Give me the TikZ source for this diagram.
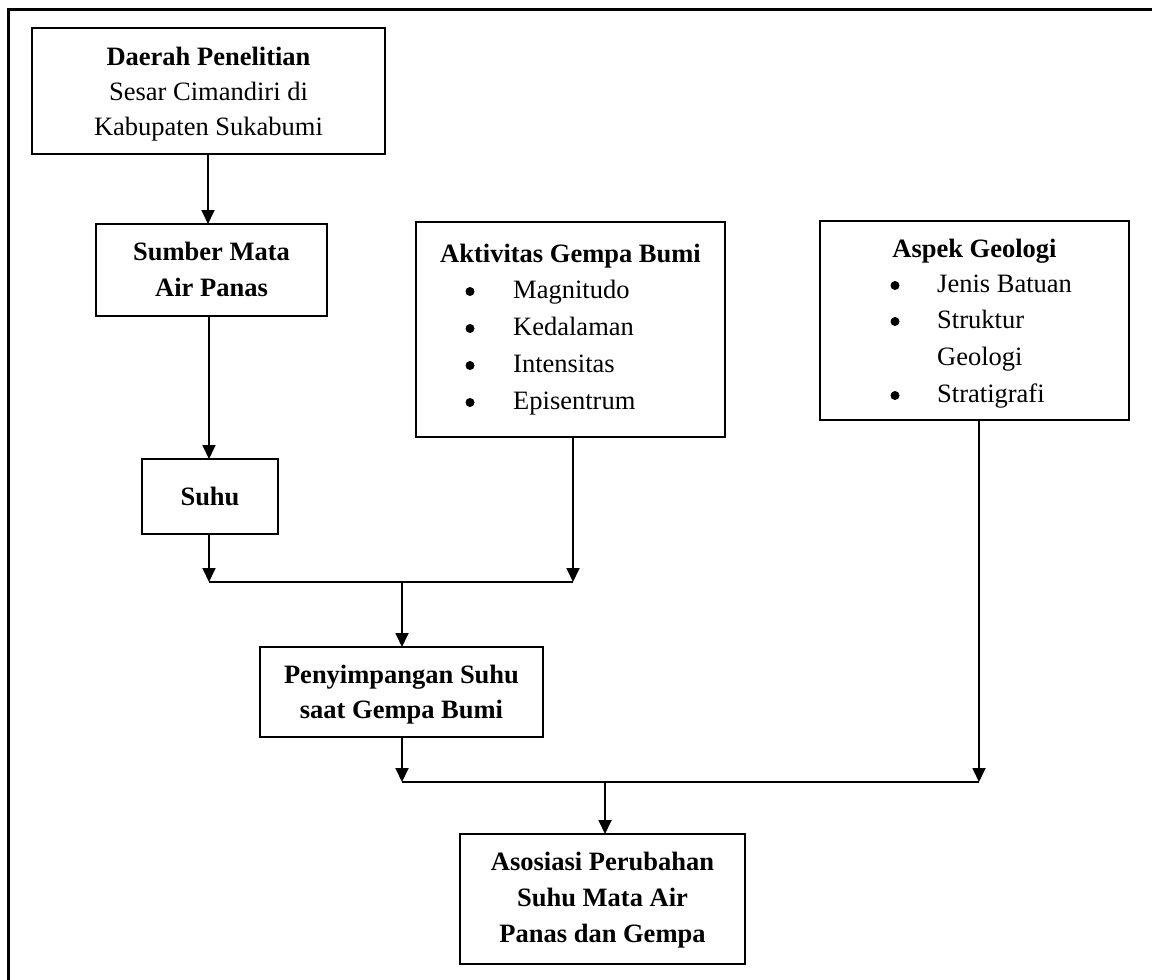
\documentclass[tikz,border=0pt]{standalone}
\usepackage{fontspec}
\setmainfont{Liberation Serif}
\usetikzlibrary{arrows.meta}
\begin{document}
\begin{tikzpicture}[x=1pt,y=-1pt,
 box/.style={draw, line width=2pt, inner sep=0pt, outer sep=0pt},
 arr/.style={line width=1.8pt, -{Triangle[width=13pt,length=14pt]}},
 ln/.style={line width=1.8pt},
 frame/.style={line width=3pt},
 txt/.style={inner sep=0pt, font=\fontsize{26.5}{35}\selectfont},
 btxt/.style={inner sep=0pt, font=\fontsize{26.5}{35}\selectfont\bfseries},
 bul/.style={circle, fill, inner sep=0pt, minimum size=9pt},
]
\useasboundingbox (0,0) rectangle (1152,980);
% outer frame (left and top only)
\coordinate (ftl) at (8.5,9);
\coordinate (fbl) at (8.5,980);
\coordinate (ftr) at (1152,9);
\draw[frame] (fbl) -- (ftl) -- (ftr);

% boxes
\node[box, minimum width=353pt, minimum height=126pt] (daerah) at (208.5,91) {};
\node[box, minimum width=231pt, minimum height=92pt] (sumber) at (211.5,270) {};
\node[box, minimum width=309pt, minimum height=215pt] (akt) at (570.5,329.5) {};
\node[box, minimum width=309pt, minimum height=199pt] (aspek) at (974.5,320.5) {};
\node[box, minimum width=136pt, minimum height=75pt] (suhu) at (210,496.5) {};
\node[box, minimum width=283pt, minimum height=90pt] (peny) at (401.5,692) {};
\node[box, minimum width=285pt, minimum height=130pt] (asos) at (602.5,899) {};

% texts
\node[btxt, anchor=base] (t1) at (208.5,65) {Daerah Penelitian};
\node[txt, anchor=base] (t2) at (208.5,100) {Sesar Cimandiri di};
\node[txt, anchor=base] (t3) at (208.5,135) {Kabupaten Sukabumi};

\node[btxt, anchor=base] (s1) at (211.5,260) {Sumber Mata};
\node[btxt, anchor=base] (s2) at (211.5,296) {Air Panas};

\node[btxt, anchor=base] (a0) at (570.5,262) {Aktivitas Gempa Bumi};
\node[bul] (ab1) at (470,291.5) {};
\node[txt, anchor=base west] (a1) at (513,298) {Magnitudo};
\node[bul] (ab2) at (470,328.5) {};
\node[txt, anchor=base west] (a2) at (513,335) {Kedalaman};
\node[bul] (ab3) at (470,365.5) {};
\node[txt, anchor=base west] (a3) at (513,372) {Intensitas};
\node[bul] (ab4) at (470,402.5) {};
\node[txt, anchor=base west] (a4) at (513,409) {Episentrum};

\node[btxt, anchor=base] (g0) at (974.5,257) {Aspek Geologi};
\node[bul] (gb1) at (895,285.5) {};
\node[txt, anchor=base west] (g1) at (937,292) {Jenis Batuan};
\node[bul] (gb2) at (895,321.5) {};
\node[txt, anchor=base west] (g2) at (937,328) {Struktur};
\node[txt, anchor=base west] (g3) at (937,365) {Geologi};
\node[bul] (gb4) at (895,395.5) {};
\node[txt, anchor=base west] (g4) at (937,402) {Stratigrafi};

\node[btxt, anchor=base] (u1) at (210,505) {Suhu};

\node[btxt, anchor=base] (p1) at (401.5,683) {Penyimpangan Suhu};
\node[btxt, anchor=base] (p2) at (401.5,718) {saat Gempa Bumi};

\node[btxt, anchor=base] (z1) at (602.5,870) {Asosiasi Perubahan};
\node[btxt, anchor=base] (z2) at (602.5,906) {Suhu Mata Air};
\node[btxt, anchor=base] (z3) at (602.5,942) {Panas dan Gempa};

% junction coordinates
\coordinate (xa) at (208,0);
\coordinate (xb) at (209,0);
\coordinate (j1) at (209,582);
\coordinate (j2) at (573,582);
\coordinate (jm) at (402,582);
\coordinate (j3) at (402,782);
\coordinate (j4) at (979,782);
\coordinate (jm2) at (605,782);

% connectors
\draw[arr] (daerah.south -| xa) -- (sumber.north -| xa);
\draw[arr] (sumber.south -| xb) -- (suhu.north -| xb);
\draw[arr] (suhu.south -| j1) -- (j1);
\draw[arr] (akt.south -| j2) -- (j2);
\draw[ln] (j1) -- (j2);
\draw[arr] (jm) -- (peny.north -| jm);
\draw[arr] (peny.south -| j3) -- (j3);
\draw[arr] (aspek.south -| j4) -- (j4);
\draw[ln] (j3) -- (j4);
\draw[arr] (jm2) -- (asos.north -| jm2);
\end{tikzpicture}
\end{document}
